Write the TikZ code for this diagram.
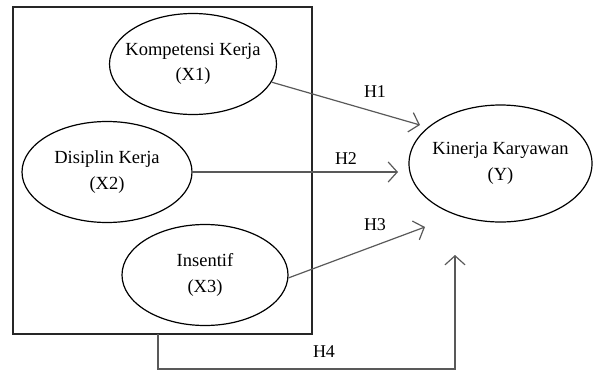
\documentclass[tikz,border=0pt]{standalone}
\usepackage{fontspec}
\setmainfont{Liberation Serif}
\usetikzlibrary{shapes.geometric,arrows.meta}
\tikzstyle{latent}=[shape = ellipse, draw = black, line width = 1.2pt, inner xsep = -12pt, inner ysep = 0pt, align = center, font = \fontsize{18.5}{25.5}\selectfont]
\tikzstyle{hyp}=[draw = black!65, line width = 1.2pt, -{Straight Barb[length = 9pt, width = 20pt, line width = 1.2pt]}]
\tikzstyle{hlabel}=[font = \fontsize{18}{20}\selectfont, inner sep = 0pt]

\begin{document}
\begin{tikzpicture}[x = 1pt, y = -1pt]
\useasboundingbox (0,0) rectangle (595,370);
% outer frame round the three X variables
\node[draw = black!85, line width = 1.2pt, minimum width = 299pt, minimum height = 327pt, inner sep = 0pt] (frame) at (162.5,170.5) {};
\node[latent, minimum width = 167pt, minimum height = 101pt] (x1) at (193,64) {Kompetensi Kerja\\(X1)};
\node[latent, minimum width = 170pt, minimum height = 101pt] (x2) at (107,172) {Disiplin Kerja\\(X2)};
\node[latent, minimum width = 166pt, minimum height = 101pt] (x3) at (205,275) {Insentif\\(X3)};
\node[latent, minimum width = 183pt, minimum height = 117pt] (y) at (500.5,163.5) {Kinerja Karyawan\\(Y)};
\coordinate (h1tip) at (420,125);
\coordinate (h2tip) at (398,172);
\coordinate (h3tip) at (425,227);
\coordinate (h4tip) at (455,255);
\coordinate (h4start) at (158,334);
\draw[hyp] (x1.-13) -- (h1tip);
\draw[hyp] (x2) -- (h2tip);
\draw[hyp] (x3.-2) -- (h3tip);
\draw[hyp] (h4start) -- (158,369) -- (455,369) -- (h4tip);
\node[hlabel] (l1) at (375,92) {H1};
\node[hlabel] (l2) at (346,159) {H2};
\node[hlabel] (l3) at (375,225) {H3};
\node[hlabel] (l4) at (324,352) {H4};
\end{tikzpicture}
\end{document}
